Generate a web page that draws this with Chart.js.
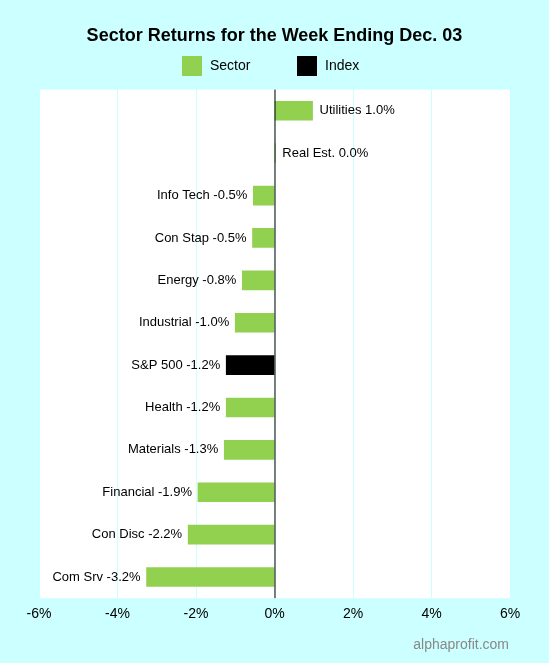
<!DOCTYPE html>
<html><head><meta charset="utf-8">
<script src="https://cdn.jsdelivr.net/npm/chart.js@4"></script>
<style>body{margin:0;background:#ccffff}#wrap{width:549px;height:663px;position:relative}</style>
</head><body><div id="wrap"><canvas id="c"></canvas></div>
<script>
// sector returns, top to bottom
const categories = ['Utilities','Real Est.','Info Tech','Con Stap','Energy','Industrial','S&P 500','Health','Materials','Financial','Con Disc','Com Srv'];
const shown      = ['1.0%','0.0%','-0.5%','-0.5%','-0.8%','-1.0%','-1.2%','-1.2%','-1.3%','-1.9%','-2.2%','-3.2%'];
const sectorVals = [0.97,0.02,-0.54,-0.56,-0.82,-1.0,null,-1.23,-1.28,-1.95,-2.2,-3.26];
const indexVals  = [null,null,null,null,null,null,-1.23,null,null,null,null,null];
const xTicks = [-6,-4,-2,0,2,4,6];

const GREEN = '#92d050';
const FONT = 'Arial, "Liberation Sans"';

const decor = {
  id: 'decor',
  beforeDraw(chart) {
    const { ctx, chartArea: a } = chart;
    ctx.save();
    ctx.fillStyle = '#fff';
    ctx.fillRect(a.left, a.top, a.right - a.left, a.bottom - a.top);
    ctx.restore();
  },
  afterDatasetsDraw(chart) {
    const { ctx, chartArea: a, scales: { x, y } } = chart;
    ctx.save();
    const x0 = x.getPixelForValue(0);
    ctx.strokeStyle = '#000'; ctx.lineWidth = 1;
    ctx.beginPath(); ctx.moveTo(x0 + 0.5, a.top); ctx.lineTo(x0 + 0.5, a.bottom); ctx.stroke();
    ctx.font = '13px ' + FONT;
    ctx.fillStyle = '#000';
    ctx.textBaseline = 'middle';
    categories.forEach((c, i) => {
      const v = sectorVals[i] ?? indexVals[i];
      const px = x.getPixelForValue(v), py = y.getPixelForValue(i);
      const s = c + ' ' + shown[i];
      if (v >= 0) { ctx.textAlign = 'left'; ctx.fillText(s, px + 7, py); }
      else { ctx.textAlign = 'right'; ctx.fillText(s, px - 6, py); }
    });
    // legend, from the dataset labels/colours
    ctx.font = '14px ' + FONT;
    ctx.textAlign = 'left';
    const lx = [182, 297];
    chart.data.datasets.forEach((d, i) => {
      ctx.fillStyle = d.backgroundColor;
      ctx.fillRect(lx[i], 56, 20, 20);
      ctx.fillStyle = '#000';
      ctx.fillText(d.label, lx[i] + 28, 66);
    });
    ctx.fillStyle = '#888';
    ctx.textAlign = 'right';
    ctx.fillText('alphaprofit.com', 509, 645);
    ctx.restore();
  }
};

new Chart(document.getElementById('c'), {
  type: 'bar',
  data: {
    labels: categories,
    datasets: [
      { label: 'Sector', data: sectorVals, backgroundColor: GREEN, barThickness: 19, grouped: false },
      { label: 'Index',  data: indexVals,  backgroundColor: '#000', barThickness: 19, grouped: false },
    ],
  },
  options: {
    indexAxis: 'y',
    responsive: true,
    maintainAspectRatio: false,
    animation: false,
    layout: { padding: { top: 25, left: 39, right: 39, bottom: 32 } },
    plugins: {
      title: { display: true, text: 'Sector Returns for the Week Ending Dec. 03', color: '#000',
               font: { size: 18, weight: 'bold', family: FONT }, padding: { top: 0, bottom: 43 } },
      legend: { display: false },
      tooltip: { enabled: false },
    },
    scales: {
      y: { display: false },
      x: {
        min: -6, max: 6,
        afterBuildTicks: (s) => { s.ticks = xTicks.map(v => ({ value: v })); },
        ticks: { callback: (v) => v + '%', color: '#000', padding: 8,
                 font: { size: 14, family: FONT } },
        grid: { color: '#ccffff', drawTicks: false },
        border: { display: false },
      },
    },
  },
  plugins: [decor],
});
</script></body></html>
